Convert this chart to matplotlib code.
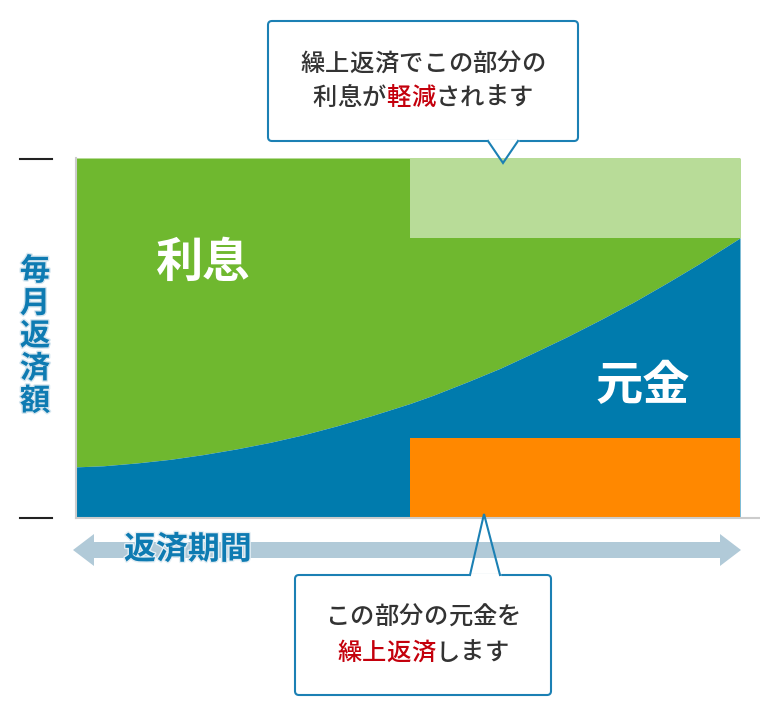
import matplotlib
matplotlib.use("Agg")
import matplotlib.pyplot as plt
from matplotlib.patches import FancyBboxPatch, Polygon
from matplotlib.lines import Line2D
import matplotlib.patheffects as pe

plt.rcParams['font.family'] = ['Noto Sans CJK JP', 'DejaVu Sans']

# repayment period (fraction of the whole term) and principal share of the monthly payment
period = [0, 0.041, 0.092, 0.142, 0.191, 0.242, 0.292, 0.342, 0.393, 0.443, 0.503,
          0.538, 0.589, 0.639, 0.688, 0.739, 0.789, 0.839, 0.890, 0.940, 1.0]
principal = [0.142, 0.145, 0.153, 0.163, 0.176, 0.192, 0.210, 0.231, 0.256, 0.283, 0.318,
             0.341, 0.378, 0.416, 0.458, 0.503, 0.550, 0.599, 0.653, 0.708, 0.778]
total = 1.0

# prepayment block
prepay_start = 0.503
prepay_principal = 0.222
prepay_interest = 0.222

GREEN = '#6fb82f'
LIGHT_GREEN = '#b8dc98'
BLUE = '#007bad'
ORANGE = '#ff8800'
ARROW = '#b1cad8'
LABEL_BLUE = '#0e7bb2'
BORDER = '#1b80b4'
RED = '#c4000c'
DARK = '#333333'

fig = plt.figure(figsize=(7.6, 7.16), dpi=100)

# main area: left edge at x=76px, bottom at y=518px, height 360px
ax = fig.add_axes([76 / 760, 198 / 716, 684 / 760, 360 / 716])
ax.set_xlim(0, 684 / 664)
ax.set_ylim(0, total)

ax.fill_between(period, principal, total, color=GREEN, lw=0)
ax.fill_between(period, 0, principal, color=BLUE, lw=0)
ax.bar(prepay_start, prepay_interest, width=1 - prepay_start, bottom=total - prepay_interest,
       align='edge', color=LIGHT_GREEN, lw=0)
ax.bar(prepay_start, prepay_principal, width=1 - prepay_start, align='edge', color=ORANGE, lw=0)

ax.text(0.191, 0.708, '利息', color='white', fontsize=34, fontweight='bold', ha='center', va='center')
ax.text(0.854, 0.367, '元金', color='white', fontsize=34, fontweight='bold', ha='center', va='center')

for s in ['top', 'right']:
    ax.spines[s].set_visible(False)
for s in ['left', 'bottom']:
    ax.spines[s].set_color('#cccccc')
    ax.spines[s].set_linewidth(1.5)
ax.set_xticks([])
ax.set_yticks([])

# overlay in pixel coordinates for annotations
ov = fig.add_axes([0, 0, 1, 1])
ov.set_xlim(0, 760)
ov.set_ylim(716, 0)
ov.axis('off')
ov.patch.set_alpha(0)

# short marks at top and bottom of the payment axis
for yy in [158.5, 517.5]:
    ov.add_line(Line2D([20, 52], [yy, yy], color='#222222', lw=1.5))

# vertical label
for i, ch in enumerate('毎月返済額'):
    ov.text(35, 271 + i * 32.6, ch, color=LABEL_BLUE, fontsize=22, fontweight='bold',
            ha='center', va='center',
            path_effects=[pe.withStroke(linewidth=2, foreground='#d6e6ef')])

# double-headed period arrow
arrow = [(73, 550), (94, 534), (94, 542), (720, 542), (720, 534), (741, 550),
         (720, 566), (720, 558), (94, 558), (94, 566)]
ov.add_patch(Polygon(arrow, closed=True, color=ARROW, lw=0))
ov.text(188, 550, '返済期間', color=LABEL_BLUE, fontsize=23, fontweight='bold',
        ha='center', va='center',
        path_effects=[pe.withStroke(linewidth=2, foreground='#e4eef4')])


def rich_line(xc, y, parts, pitch=24.6, size=17.5):
    chars = [(ch, c) for s, c in parts for ch in s]
    x = xc - pitch * (len(chars) - 1) / 2
    for ch, c in chars:
        ov.text(x, y, ch, color=c, fontsize=size, fontweight='medium', ha='center', va='center')
        x += pitch


def callout(x0, y0, x1, y1, base, tip, base_y):
    box = FancyBboxPatch((x0, y0), x1 - x0, y1 - y0, boxstyle='round,pad=0,rounding_size=4',
                         fc='white', ec=BORDER, lw=1.5, zorder=3)
    ov.add_patch(box)
    ov.add_line(Line2D([base[0] + 1, base[1] - 1], [base_y, base_y], color='white', lw=2.5, zorder=4))
    ov.add_line(Line2D([base[0], tip[0], base[1]], [base_y, tip[1], base_y], color=BORDER, lw=1.5,
                       zorder=4, solid_joinstyle='miter'))


callout(268, 21, 578, 141, (488, 518), (503, 163), 141)
rich_line(423, 64, [('繰上返済でこの部分の', DARK)])
rich_line(423, 98, [('利息が', DARK), ('軽減', RED), ('されます', DARK)])

callout(295, 575, 551, 695, (470, 500), (484, 514), 575)
rich_line(423, 617, [('この部分の元金を', DARK)])
rich_line(423, 653, [('繰上返済', RED), ('します', DARK)])

fig.savefig('out.png', dpi=100)
